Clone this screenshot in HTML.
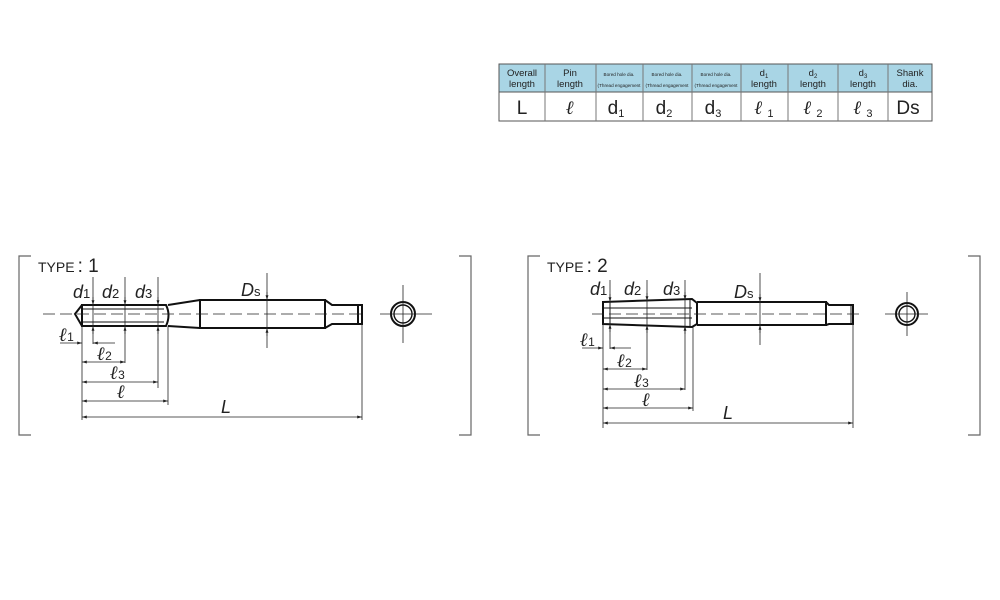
<!DOCTYPE html>
<html><head><meta charset="utf-8"><style>
body{margin:0;background:#fff;}
svg{display:block;font-family:"Liberation Sans",sans-serif;}
</style></head><body>
<svg width="1000" height="600" viewBox="0 0 1000 600" xmlns="http://www.w3.org/2000/svg">
<defs>
<marker id="a" viewBox="0 0 10 10" refX="10" refY="5" markerWidth="6" markerHeight="6" orient="auto-start-reverse"><path d="M0,2 L10,5 L0,8z" fill="#222"/></marker>
</defs>
<!-- table -->
<g>
<rect x="499" y="64" width="433" height="28" fill="#a9d5e5"/>
<rect x="499" y="64" width="433" height="57" fill="none" stroke="#555" stroke-width="1"/>
<line x1="499" y1="92" x2="932" y2="92" stroke="#555"/>
<g stroke="#777" stroke-width="1">
<line x1="545" y1="64" x2="545" y2="121"/><line x1="596" y1="64" x2="596" y2="121"/><line x1="643" y1="64" x2="643" y2="121"/><line x1="692" y1="64" x2="692" y2="121"/><line x1="741" y1="64" x2="741" y2="121"/><line x1="788" y1="64" x2="788" y2="121"/><line x1="838" y1="64" x2="838" y2="121"/><line x1="888" y1="64" x2="888" y2="121"/>
</g>
<g font-size="9.5" fill="#222" text-anchor="middle">
<text x="522" y="76">Overall</text><text x="522" y="87">length</text>
<text x="570" y="76">Pin</text><text x="570" y="87">length</text>
<g font-size="4.6"><text x="619" y="76">Bored hole dia.</text><text x="619" y="87">(Thread engagement</text>
<text x="667" y="76">Bored hole dia.</text><text x="667" y="87">(Thread engagement</text>
<text x="716" y="76">Bored hole dia.</text><text x="716" y="87">(Thread engagement</text></g>
<text x="764" y="76">d<tspan font-size="6" dy="2">1</tspan></text><text x="764" y="87">length</text>
<text x="813" y="76">d<tspan font-size="6" dy="2">2</tspan></text><text x="813" y="87">length</text>
<text x="863" y="76">d<tspan font-size="6" dy="2">3</tspan></text><text x="863" y="87">length</text>
<text x="910" y="76">Shank</text><text x="910" y="87">dia.</text>
</g>
<g font-size="19" fill="#222" text-anchor="middle">
<text x="522" y="114">L</text>
<text x="570" y="114" font-style="italic" font-weight="bold" font-family="Liberation Serif">ℓ</text>
<text x="616" y="114">d<tspan font-size="11" dy="3">1</tspan></text>
<text x="664" y="114">d<tspan font-size="11" dy="3">2</tspan></text>
<text x="713" y="114">d<tspan font-size="11" dy="3">3</tspan></text>
<text x="764" y="114" font-family="Liberation Serif" font-style="italic" font-weight="bold">ℓ <tspan font-size="11" font-style="normal" font-weight="normal" font-family="Liberation Sans" dy="3">1</tspan></text>
<text x="813" y="114" font-family="Liberation Serif" font-style="italic" font-weight="bold">ℓ <tspan font-size="11" font-style="normal" font-weight="normal" font-family="Liberation Sans" dy="3">2</tspan></text>
<text x="863" y="114" font-family="Liberation Serif" font-style="italic" font-weight="bold">ℓ <tspan font-size="11" font-style="normal" font-weight="normal" font-family="Liberation Sans" dy="3">3</tspan></text>
<text x="908" y="114">Ds</text>
</g>
</g>

<!-- brackets -->
<g fill="none" stroke="#666" stroke-width="1.2">
<path d="M31,256 H19 V435 H31"/><path d="M459,256 H471 V435 H459"/>
<path d="M540,256 H528 V435 H540"/><path d="M968,256 H980 V435 H968"/>
</g>
<g font-size="14" fill="#222">
<text x="38" y="272">TYPE<tspan font-size="19" dx="3">: 1</tspan></text>
<text x="547" y="272">TYPE<tspan font-size="19" dx="3">: 2</tspan></text>
</g>

<!-- TYPE 1 tool -->
<g fill="none" stroke="#111" stroke-width="2">
<path d="M82,305 L75,314 L82,326"/>
<path d="M82,305 H166 Q171,315 166,326 H82 Z"/>
<line x1="82" y1="309" x2="164" y2="309" stroke-width="1"/><line x1="82" y1="322" x2="164" y2="322" stroke-width="1"/>
<path d="M168,305 L200,300 M168,326 L200,328"/>
<rect x="200" y="300" width="125" height="28"/>
<path d="M325,300 L332,305 H358 V324 H332 L325,328"/>
<rect x="358" y="305" width="4" height="19"/>
<circle cx="403" cy="314" r="12"/><circle cx="403" cy="314" r="9" stroke-width="1.4"/>
</g>
<g stroke="#222" stroke-width="0.8" fill="none">
<line x1="43" y1="314" x2="365" y2="314" stroke-dasharray="12,5"/>
<line x1="380" y1="314" x2="432" y2="314"/><line x1="403" y1="285" x2="403" y2="343"/>
<line x1="93" y1="277" x2="93" y2="344"/><line x1="125" y1="277" x2="125" y2="363"/><line x1="158" y1="277" x2="158" y2="388"/>
<line x1="168" y1="326" x2="168" y2="405"/><line x1="82" y1="326" x2="82" y2="420"/><line x1="362" y1="324" x2="362" y2="420"/>
<line x1="267" y1="273" x2="267" y2="348"/>
<line x1="60" y1="343" x2="82" y2="343" marker-end="url(#a)"/><line x1="115" y1="343" x2="93" y2="343" marker-end="url(#a)"/>
<line x1="82" y1="362" x2="125" y2="362" marker-start="url(#a)" marker-end="url(#a)"/>
<line x1="82" y1="382" x2="158" y2="382" marker-start="url(#a)" marker-end="url(#a)"/>
<line x1="82" y1="401" x2="168" y2="401" marker-start="url(#a)" marker-end="url(#a)"/>
<line x1="82" y1="417" x2="362" y2="417" marker-start="url(#a)" marker-end="url(#a)"/>
<line x1="93" y1="297" x2="93" y2="305" marker-end="url(#a)"/><line x1="93" y1="334" x2="93" y2="326" marker-end="url(#a)"/>
<line x1="125" y1="297" x2="125" y2="305" marker-end="url(#a)"/><line x1="125" y1="334" x2="125" y2="326" marker-end="url(#a)"/>
<line x1="158" y1="297" x2="158" y2="305" marker-end="url(#a)"/><line x1="158" y1="334" x2="158" y2="326" marker-end="url(#a)"/>
<line x1="267" y1="292" x2="267" y2="300" marker-end="url(#a)"/><line x1="267" y1="336" x2="267" y2="328" marker-end="url(#a)"/>
</g>
<g font-size="18" fill="#222" font-style="italic">
<text x="73" y="298">d<tspan font-size="13" font-style="normal">1</tspan></text>
<text x="102" y="298">d<tspan font-size="13" font-style="normal">2</tspan></text>
<text x="135" y="298">d<tspan font-size="13" font-style="normal">3</tspan></text>
<text x="241" y="296">D<tspan font-size="13" font-style="normal">s</tspan></text>
<text x="221" y="413">L</text>
</g>
<g font-size="19" fill="#222" font-family="Liberation Serif" font-style="italic" font-weight="bold">
<text x="59" y="341">ℓ<tspan font-size="12" font-family="Liberation Sans" font-style="normal" font-weight="normal">1</tspan></text>
<text x="97" y="360">ℓ<tspan font-size="12" font-family="Liberation Sans" font-style="normal" font-weight="normal">2</tspan></text>
<text x="110" y="379">ℓ<tspan font-size="12" font-family="Liberation Sans" font-style="normal" font-weight="normal">3</tspan></text>
<text x="117" y="398">ℓ</text>
</g>

<!-- TYPE 2 tool -->
<g fill="none" stroke="#111" stroke-width="2">
<path d="M603,302 L692,299 L697,303 V324 L692,327 L603,324 Z"/>
<line x1="603" y1="308" x2="692" y2="308" stroke-width="1"/><line x1="603" y1="318" x2="692" y2="318" stroke-width="1"/>
<line x1="610" y1="302" x2="610" y2="324" stroke-width="1"/><line x1="690" y1="300" x2="690" y2="326" stroke-width="1"/>
<path d="M697,302 H826 V325 H697"/>
<path d="M826,302 L829,305 H853 V324 H829 L826,325"/>
<line x1="851" y1="305" x2="851" y2="324" stroke-width="1"/>
<circle cx="907" cy="314" r="11"/><circle cx="907" cy="314" r="8" stroke-width="1.4"/>
</g>
<g stroke="#222" stroke-width="0.8" fill="none">
<line x1="592" y1="314" x2="862" y2="314" stroke-dasharray="12,5"/>
<line x1="885" y1="314" x2="928" y2="314"/><line x1="907" y1="292" x2="907" y2="336"/>
<line x1="610" y1="280" x2="610" y2="349"/><line x1="647" y1="280" x2="647" y2="370"/><line x1="685" y1="280" x2="685" y2="390"/>
<line x1="693" y1="327" x2="693" y2="411"/><line x1="603" y1="324" x2="603" y2="428"/><line x1="853" y1="324" x2="853" y2="428"/>
<line x1="760" y1="273" x2="760" y2="345"/>
<line x1="582" y1="348" x2="603" y2="348" marker-end="url(#a)"/><line x1="631" y1="348" x2="610" y2="348" marker-end="url(#a)"/>
<line x1="603" y1="369" x2="647" y2="369" marker-start="url(#a)" marker-end="url(#a)"/>
<line x1="603" y1="389" x2="685" y2="389" marker-start="url(#a)" marker-end="url(#a)"/>
<line x1="603" y1="408" x2="693" y2="408" marker-start="url(#a)" marker-end="url(#a)"/>
<line x1="603" y1="423" x2="853" y2="423" marker-start="url(#a)" marker-end="url(#a)"/>
<line x1="610" y1="294" x2="610" y2="302" marker-end="url(#a)"/><line x1="610" y1="332" x2="610" y2="324" marker-end="url(#a)"/>
<line x1="647" y1="293" x2="647" y2="301" marker-end="url(#a)"/><line x1="647" y1="333" x2="647" y2="325" marker-end="url(#a)"/>
<line x1="685" y1="292" x2="685" y2="300" marker-end="url(#a)"/><line x1="685" y1="334" x2="685" y2="326" marker-end="url(#a)"/>
<line x1="760" y1="294" x2="760" y2="302" marker-end="url(#a)"/><line x1="760" y1="333" x2="760" y2="325" marker-end="url(#a)"/>
</g>
<g font-size="18" fill="#222" font-style="italic">
<text x="590" y="295">d<tspan font-size="13" font-style="normal">1</tspan></text>
<text x="624" y="295">d<tspan font-size="13" font-style="normal">2</tspan></text>
<text x="663" y="295">d<tspan font-size="13" font-style="normal">3</tspan></text>
<text x="734" y="298">D<tspan font-size="13" font-style="normal">s</tspan></text>
<text x="723" y="419">L</text>
</g>
<g font-size="19" fill="#222" font-family="Liberation Serif" font-style="italic" font-weight="bold">
<text x="580" y="346">ℓ<tspan font-size="12" font-family="Liberation Sans" font-style="normal" font-weight="normal">1</tspan></text>
<text x="617" y="367">ℓ<tspan font-size="12" font-family="Liberation Sans" font-style="normal" font-weight="normal">2</tspan></text>
<text x="634" y="387">ℓ<tspan font-size="12" font-family="Liberation Sans" font-style="normal" font-weight="normal">3</tspan></text>
<text x="642" y="406">ℓ</text>
</g>
</svg>
</body></html>
